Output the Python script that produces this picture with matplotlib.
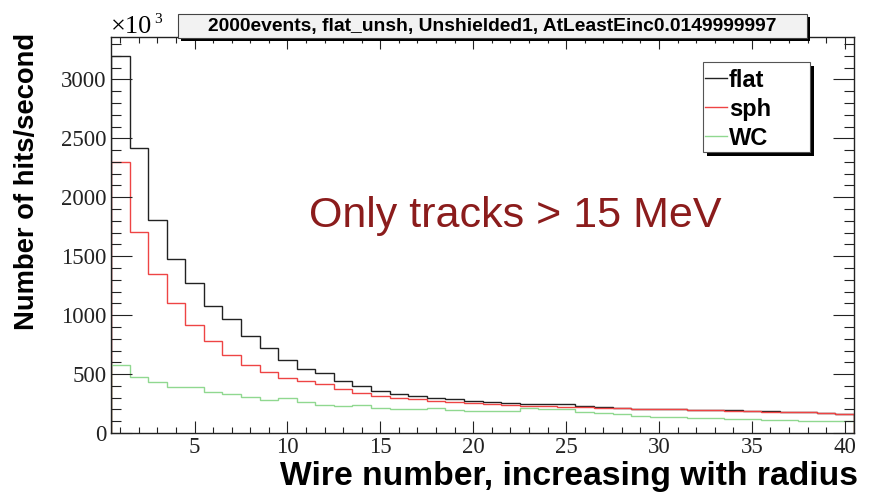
import numpy as np
import matplotlib
matplotlib.use("Agg")
import matplotlib.pyplot as plt
from matplotlib.patches import Rectangle
from matplotlib.lines import Line2D

# hit rate per wire (x10^3 hits/s), wires 1..40
wires = np.arange(1, 41)
flat = [3200, 2420, 1810, 1475, 1275, 1075, 970, 822, 718, 619,
        542, 508, 443, 400, 355, 332, 315, 300, 288, 275,
        263, 255, 250, 245, 242, 230, 218, 210, 205, 202,
        200, 198, 195, 191, 188, 184, 180, 175, 168, 162]
sph = [2300, 1706, 1345, 1100, 915, 780, 661, 576, 520, 463,
       441, 415, 373, 342, 318, 300, 285, 272, 262, 252,
       244, 238, 232, 226, 222, 217, 214, 211, 207, 203,
       200, 197, 194, 190, 186, 182, 179, 174, 168, 160]
wc = [580, 478, 435, 393, 387, 350, 330, 302, 276, 294,
      262, 240, 230, 238, 215, 205, 200, 208, 195, 190,
      188, 185, 208, 205, 200, 175, 168, 158, 148, 140,
      134, 128, 124, 120, 117, 113, 110, 106, 102, 98]

labels = ["flat", "sph", "WC"]
colors = ["#222222", "#ee4444", "#90d890"]

title_str = "2000events, flat_unsh, Unshielded1, AtLeastEinc0.0149999997"
note_str = "Only tracks > 15 MeV"

W, H = 888, 495
fig = plt.figure(figsize=(W / 100, H / 100), dpi=100)
ax = fig.add_axes([111 / W, 1 - 433 / H, (854 - 111) / W, (433 - 37) / H])

def fx(px):
    return px / W

def fy(px):
    return 1 - px / H

edges = np.append(wires - 0.5, wires[-1] + 0.5)
for vals, c in zip([flat, sph, wc], colors):
    ax.stairs(vals, edges, baseline=0, color=c, lw=1.0)

ax.set_xlim(0.5, 40.5)
ax.set_ylim(0, 3360)
ax.set_xticks(np.arange(5, 41, 5))
ax.set_xticks(np.arange(1, 41, 1), minor=True)
ax.set_yticks(np.arange(0, 3001, 500))
ax.set_yticks(np.arange(0, 3301, 100), minor=True)

serif = "Liberation Serif"
sans = "Liberation Sans"
ax.tick_params(axis="both", which="both", direction="in", top=True, right=True,
               colors="#222222", width=0.8)
ax.tick_params(axis="x", which="major", length=8.6, pad=3)
ax.tick_params(axis="x", which="minor", length=4.3)
ax.tick_params(axis="y", which="major", length=15, pad=3)
ax.tick_params(axis="y", which="minor", length=7.2)
for lbl in ax.get_xticklabels() + ax.get_yticklabels():
    lbl.set_fontfamily(serif)
    lbl.set_fontsize(16.5)
for sp in ax.spines.values():
    sp.set_color("#222222")
    sp.set_linewidth(1.0)

# axis titles
fig.text(fx(27), fy(33), "Number of hits/second", rotation=90,
         ha="center", va="top", family=sans, weight="bold", fontsize=19.7)
fig.text(fx(858), fy(485), "Wire number, increasing with radius",
         ha="right", va="baseline", family=sans, weight="bold", fontsize=24.2)

# exponent marker
fig.text(fx(111), fy(33), "\u00d710", ha="left", va="baseline",
         family=serif, fontsize=19)
fig.text(fx(154), fy(23), "3", ha="left", va="baseline",
         family=serif, fontsize=11)

# title box with shadow
fig.patches.append(Rectangle((fx(181), fy(41)), (810 - 181) / W, (41 - 17) / H,
                             transform=fig.transFigure, facecolor="black",
                             edgecolor="none", zorder=5))
fig.patches.append(Rectangle((fx(178), fy(38)), (807 - 178) / W, (38 - 14) / H,
                             transform=fig.transFigure, facecolor="#f2f2f2",
                             edgecolor="#444444", lw=0.8, zorder=6))
fig.text(fx(492), fy(26), title_str, ha="center", va="center",
         family=sans, weight="bold", fontsize=13.9, zorder=7)

# annotation
fig.text(fx(515), fy(227), note_str, ha="center", va="baseline",
         family=sans, fontsize=31, color="#8b1c1c")

# legend box with shadow
fig.patches.append(Rectangle((fx(707), fy(156)), (814 - 707) / W, (156 - 66) / H,
                             transform=fig.transFigure, facecolor="black",
                             edgecolor="none", zorder=5))
fig.patches.append(Rectangle((fx(703), fy(152)), (810 - 703) / W, (152 - 62) / H,
                             transform=fig.transFigure, facecolor="white",
                             edgecolor="#555555", lw=0.8, zorder=6))
for i, (lab, c) in enumerate(zip(labels, colors)):
    base = 87 + 29 * i
    fig.add_artist(Line2D([fx(705), fx(727)], [fy(base - 9), fy(base - 9)],
                          color=c, lw=1.0, transform=fig.transFigure, zorder=7))
    fig.text(fx(729), fy(base), lab, ha="left", va="baseline",
             family=sans, weight="bold", fontsize=17, zorder=7)

fig.savefig("out.png", dpi=100)
